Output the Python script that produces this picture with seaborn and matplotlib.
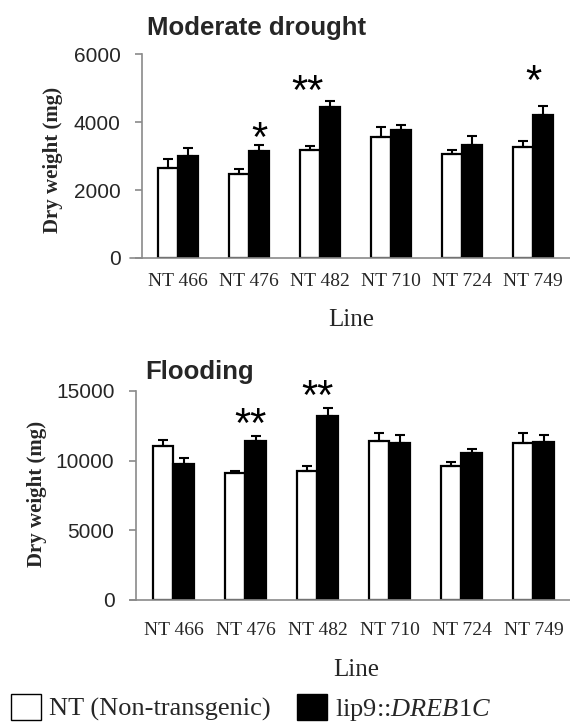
import matplotlib
matplotlib.use("Agg")
import matplotlib.pyplot as plt
from matplotlib.patches import Patch
import seaborn as sns
import pandas as pd
import numpy as np

# ---------------- data ----------------
lines = ["NT 466", "NT 476", "NT 482", "NT 710", "NT 724", "NT 749"]
groups = ["NT (Non-transgenic)", "lip9::DREB1C"]

drought_nt = [2640, 2470, 3180, 3560, 3060, 3260]
drought_nt_err = [275, 150, 120, 290, 125, 185]
drought_tg = [3000, 3150, 4450, 3760, 3330, 4220]
drought_tg_err = [230, 160, 170, 140, 245, 240]

flood_nt = [11040, 9100, 9250, 11400, 9600, 11280]
flood_nt_err = [430, 150, 340, 580, 310, 720]
flood_tg = [9720, 11420, 13200, 11280, 10510, 11330]
flood_tg_err = [430, 320, 610, 530, 340, 500]

drought_sig = ["", "*", "**", "", "", "*"]
drought_sig_y = [0, 3720, 5096, 0, 0, 5390]
flood_sig = ["", "**", "**", "", "", ""]
flood_sig_y = [0, 13053, 15072, 0, 0, 0]

drought_ticks = [0, 2000, 4000, 6000]
flood_ticks = [0, 5000, 10000, 15000]

# ---------------- style ----------------
sns.set_theme(style="white")
plt.rcParams["font.family"] = ["Liberation Sans", "DejaVu Sans"]
plt.rcParams["mathtext.fontset"] = "custom"
plt.rcParams["mathtext.rm"] = "Liberation Serif"
plt.rcParams["mathtext.it"] = "Liberation Serif:italic"

SPINE = "#8a8a8a"
SERIF = ["Liberation Serif", "DejaVu Serif"]
STAR_SIZE = 30

fig = plt.figure(figsize=(5.70, 7.22), dpi=100)


def make_df(nt, tg):
    return pd.DataFrame({
        "line": lines * 2,
        "weight": nt + tg,
        "group": [groups[0]] * len(lines) + [groups[1]] * len(lines),
    })


def panel(rect, nt, nt_err, tg, tg_err, sig, sig_y, sig_dx, ticks, xlim,
          width, title, title_xy, ylab_xy, xlab_xy, xpad, ypad, ext):
    ax = fig.add_axes(rect)
    df = make_df(nt, tg)
    sns.barplot(data=df, x="line", y="weight", hue="group", order=lines,
                hue_order=groups, palette={groups[0]: "white", groups[1]: "black"},
                width=width, gap=0, errorbar=None, edgecolor="black",
                linewidth=1.6, legend=False, ax=ax)
    for cont, errs in zip(ax.containers, [nt_err, tg_err]):
        xs = [p.get_x() + p.get_width() / 2 for p in cont.patches]
        hs = [p.get_height() for p in cont.patches]
        ax.errorbar(xs, hs, yerr=[np.zeros(len(errs)), errs], fmt="none",
                    ecolor="black", elinewidth=1.5, capsize=3.8, capthick=1.5,
                    zorder=3)
    # asterisk glyph sits high in its box: shift anchor down ~8 px
    px = ticks[-1] / (rect[3] * 722)
    for i, (s, y) in enumerate(zip(sig, sig_y)):
        if s:
            ax.text(i + sig_dx[i], y - 8 * px, s, ha="center", va="center",
                    fontsize=STAR_SIZE, color="black", clip_on=False)
    ax.set_xlim(*xlim)
    ax.set_ylim(0, ticks[-1])
    ax.set_yticks(ticks)
    ax.set_yticklabels([str(t) for t in ticks], fontsize=15)
    ax.set_xticks(range(len(lines)))
    ax.set_xticklabels(lines, fontsize=14, family=SERIF)
    ax.tick_params(axis="x", length=0, pad=xpad)
    ax.tick_params(axis="y", length=5, width=1.2, color=SPINE, pad=ypad,
                   direction="out", left=True)
    for k in ["top", "right"]:
        ax.spines[k].set_visible(False)
    for k in ["left", "bottom"]:
        ax.spines[k].set_color(SPINE)
        ax.spines[k].set_linewidth(1.2)
    ax.plot([ext, 0], [0, 0], transform=ax.transAxes, color=SPINE, lw=1.2,
            clip_on=False)
    ax.set_xlabel("Line", fontsize=18, family=SERIF)
    ax.xaxis.set_label_coords(*xlab_xy)
    ax.xaxis.label.set_va("center")
    ax.set_ylabel("Dry weight (mg)", fontsize=15, family=SERIF,
                  fontweight="bold")
    ax.yaxis.set_label_coords(*ylab_xy)
    ax.yaxis.label.set_va("center")
    ax.text(title_xy[0], title_xy[1], title, transform=ax.transAxes,
            fontsize=18.5, fontweight="bold", ha="left", va="center")
    ax.set_facecolor("white")
    return ax


panel([142 / 570, 1 - 258 / 722, 428 / 570, 204 / 722],
      drought_nt, drought_nt_err, drought_tg, drought_tg_err,
      drought_sig, drought_sig_y, [0, 0.14, -0.17, 0, 0, 0],
      drought_ticks, (-0.507, 5.52), 0.56, "Moderate drought",
      (0.011, 1.129), (-0.208, 0.481), (0.488, -0.304), 11, 10.5, -0.028)

panel([136 / 570, 1 - 599.5 / 722, 434 / 570, 208.5 / 722],
      flood_nt, flood_nt_err, flood_tg, flood_tg_err,
      flood_sig, flood_sig_y, [0, 0.075, 0, 0, 0, 0],
      flood_ticks, (-0.52, 5.507), 0.58, "Flooding",
      (0.021, 1.091), (-0.228, 0.506), (0.508, -0.337), 16, 10.5, -0.014)

handles = [Patch(facecolor="white", edgecolor="black", linewidth=1.0),
           Patch(facecolor="black", edgecolor="black", linewidth=1.0)]
fig.legend(handles, ["NT (Non-transgenic)", r"lip9::$\mathit{DREB1C}$"],
           ncol=2, loc="upper left", bbox_to_anchor=(11 / 570, 1 - 694 / 722),
           frameon=False, borderpad=0, borderaxespad=0, handlelength=1.14,
           handleheight=1.14, handletextpad=0.3, columnspacing=1.0,
           prop={"family": SERIF, "size": 19})

fig.savefig("out.png", dpi=100, facecolor="white")
